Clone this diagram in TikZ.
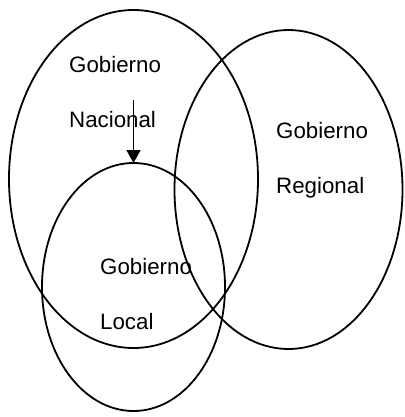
\documentclass[tikz,border=0pt]{standalone}
\usepackage{fontspec}
\setmainfont{Liberation Sans}
\usetikzlibrary{shapes.geometric,arrows.meta}
\begin{document}
\begin{tikzpicture}[x=1pt,y=-1pt,
  set/.style={draw, ellipse, line width=1.8pt, inner sep=0pt, outer sep=0pt},
  lbl/.style={anchor=base west, inner sep=0pt, font=\fontsize{22.3}{26}\selectfont},
  link/.style={line width=1.6pt, -{Triangle[width=14pt,length=13pt]}}]
  \useasboundingbox (0,0) rectangle (404,417);
  % three overlapping sets
  \node[set, minimum width=249pt, minimum height=338pt] (nac) at (133.5,179) {};
  \node[set, minimum width=228pt, minimum height=319pt] (reg) at (288.5,189.5) {};
  \node[set, minimum width=183pt, minimum height=248pt] (loc) at (133.5,287) {};
  % labels
  \node[lbl] (nacA) at (69,73) {Gobierno};
  \node[lbl] (nacB) at (69,128) {Nacional};
  \node[lbl] (regA) at (276,138) {Gobierno};
  \node[lbl] (regB) at (276,193) {Regional};
  \node[lbl] (locA) at (100,274) {Gobierno};
  \node[lbl] (locB) at (100,329) {Local};
  % national to local
  \coordinate (src) at (133.5,100);
  \draw[link] (src) -- (loc.north);
\end{tikzpicture}
\end{document}
